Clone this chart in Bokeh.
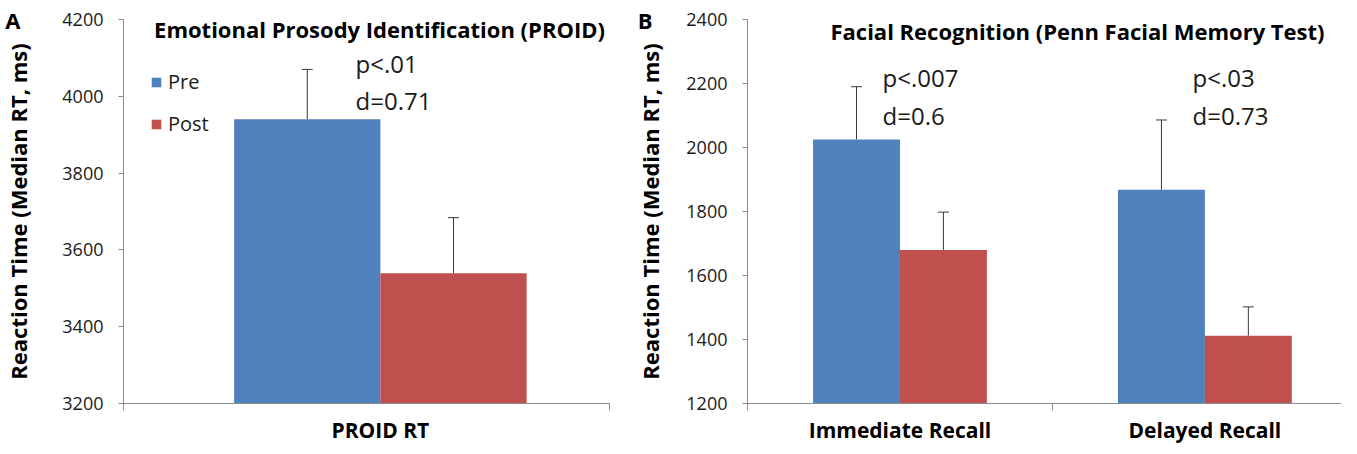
from bokeh.plotting import figure
from bokeh.layouts import row
from bokeh.models import (ColumnDataSource, Range1d, FixedTicker, Whisker, Label,
                          Legend, LegendItem, TeeHead, LinearAxis)
from bokeh.transform import dodge
from bokeh.embed import file_html
from bokeh.resources import INLINE

# ---------------- data ----------------
series = ["Pre", "Post"]
colors = ["#4F81BD", "#C0504D"]

a_categories = ["PROID RT"]
a_pre = [3940]
a_post = [3539]
a_pre_err = [130]
a_post_err = [145]
a_ticks = [3200, 3400, 3600, 3800, 4000, 4200]
a_notes = ["p<.01", "d=0.71"]

b_categories = ["Immediate Recall", "Delayed Recall"]
b_pre = [2025, 1868]
b_post = [1680, 1412]
b_pre_err = [165, 218]
b_post_err = [118, 90]
b_ticks = [1200, 1400, 1600, 1800, 2000, 2200, 2400]
b_notes = [["p<.007", "d=0.6"], ["p<.03", "d=0.73"]]

FONT = "Open Sans"
AXIS_GREY = "#8C8C8C"
TEXT = "#1a1a1a"


def make_panel(cats, pre, post, pre_err, post_err, ticks, x_range, bar_w,
               width, min_left, min_right, label_standoff, minor, tag, tag_standoff):
    idx = list(range(len(cats)))
    src = ColumnDataSource(dict(
        idx=idx, pre=pre, post=post,
        pre_top=[v + e for v, e in zip(pre, pre_err)],
        post_top=[v + e for v, e in zip(post, post_err)],
    ))
    p = figure(width=width, height=446, output_backend="svg", toolbar_location=None,
               x_range=Range1d(*x_range), y_range=Range1d(ticks[0], ticks[-1]),
               min_border_left=min_left, min_border_right=min_right,
               min_border_top=19, min_border_bottom=41)
    p.outline_line_color = None
    p.grid.visible = False
    p.background_fill_color = "white"

    r_pre = p.vbar(x=dodge("idx", -bar_w / 2, range=p.x_range), top="pre", bottom=ticks[0],
                   width=bar_w, source=src, fill_color=colors[0], line_color=None)
    r_post = p.vbar(x=dodge("idx", bar_w / 2, range=p.x_range), top="post", bottom=ticks[0],
                    width=bar_w, source=src, fill_color=colors[1], line_color=None)

    for col_base, col_top, off in (("pre", "pre_top", -bar_w / 2), ("post", "post_top", bar_w / 2)):
        w = Whisker(base=dodge("idx", off, range=p.x_range), lower=col_base, upper=col_top,
                    source=src, line_color="#3a3a3a", line_width=1,
                    upper_head=TeeHead(size=11, line_color="#3a3a3a", line_width=1),
                    lower_head=None)
        p.add_layout(w)

    # x axis: category names at the centres, tick marks at the category boundaries
    xa = p.xaxis[0]
    xa.ticker = FixedTicker(ticks=idx, minor_ticks=minor)
    xa.major_label_overrides = {i: c for i, c in zip(idx, cats)}
    xa.major_tick_out = 0
    xa.major_tick_in = 0
    xa.minor_tick_out = 7
    xa.minor_tick_in = 0
    xa.minor_tick_line_color = AXIS_GREY
    xa.axis_line_color = AXIS_GREY
    xa.major_label_text_font = FONT
    xa.major_label_text_font_style = "bold"
    xa.major_label_text_font_size = "21px"
    xa.major_label_text_color = "black"
    xa.major_label_standoff = 5

    ya = p.yaxis[0]
    ya.ticker = FixedTicker(ticks=ticks)
    ya.minor_tick_line_color = None
    ya.major_tick_out = 5
    ya.major_tick_in = 0
    ya.major_tick_line_color = AXIS_GREY
    ya.axis_line_color = AXIS_GREY
    ya.major_label_text_font = FONT
    ya.major_label_text_font_size = "18px"
    ya.major_label_text_color = TEXT
    ya.major_label_standoff = 15
    ya.axis_label = "Reaction Time (Median RT, ms)"
    ya.axis_label_text_font = FONT
    ya.axis_label_text_font_style = "bold"
    ya.axis_label_text_font_size = "22px"
    ya.axis_label_text_color = "black"
    ya.axis_label_standoff = label_standoff

    # panel letter, carried by an empty outer axis so that it sits outside the frame
    tag_axis = LinearAxis(ticker=FixedTicker(ticks=[]), axis_line_color=None,
                          major_tick_line_color=None, minor_tick_line_color=None,
                          axis_label=tag, axis_label_orientation="horizontal",
                          axis_label_align="end", axis_label_standoff=tag_standoff,
                          axis_label_text_font=FONT, axis_label_text_font_style="bold",
                          axis_label_text_font_size="22px", axis_label_text_color="black")
    p.add_layout(tag_axis, "left")
    return p, r_pre, r_post


def add_text(p, txt, x, y, size="24px", bold=False, align="left", baseline="middle"):
    p.add_layout(Label(x=x, y=y, x_units="screen", y_units="screen", text=txt,
                       text_font=FONT, text_font_size=size,
                       text_font_style="bold" if bold else "normal",
                       text_color="black" if bold else TEXT,
                       text_align=align, text_baseline=baseline))


# ---------------- Panel A ----------------
pa, ra_pre, ra_post = make_panel(a_categories, a_pre, a_post, a_pre_err, a_post_err, a_ticks,
                                 x_range=(-0.527, 0.47), bar_w=0.3, width=632,
                                 min_left=117, min_right=23, label_standoff=26,
                                 minor=[-0.527, 0.47], tag="A", tag_standoff=-20)
add_text(pa, "Emotional Prosody Identification (PROID)", 256, 375, size="22px", bold=True, align="center")
add_text(pa, a_notes[0], 232, 340)
add_text(pa, a_notes[1], 232, 303)

legend = Legend(items=[LegendItem(label=series[0], renderers=[ra_pre]),
                       LegendItem(label=series[1], renderers=[ra_post])],
                location=(27, 266), orientation="vertical",
                background_fill_alpha=0, border_line_color=None,
                label_text_font=FONT, label_text_font_size="20px", label_text_color=TEXT,
                glyph_width=12, glyph_height=12, label_height=20, spacing=15,
                padding=0, margin=0, label_standoff=6)
pa.add_layout(legend)

# ---------------- Panel B ----------------
pb, rb_pre, rb_post = make_panel(b_categories, b_pre, b_post, b_pre_err, b_post_err, b_ticks,
                                 x_range=(-0.5, 1.448), bar_w=0.285, width=709,
                                 min_left=113, min_right=0, label_standoff=18,
                                 minor=[-0.5, 0.5, 1.5], tag="B", tag_standoff=-20)
add_text(pb, "Facial Recognition (Penn Facial Memory Test)", 330, 373, size="22px", bold=True, align="center")
add_text(pb, b_notes[0][0], 135, 326)
add_text(pb, b_notes[0][1], 135, 288)
add_text(pb, b_notes[1][0], 445, 326)
add_text(pb, b_notes[1][1], 445, 288)

layout = row(pa, pb, spacing=0)
open("out.html", "w").write(file_html(layout, INLINE))
